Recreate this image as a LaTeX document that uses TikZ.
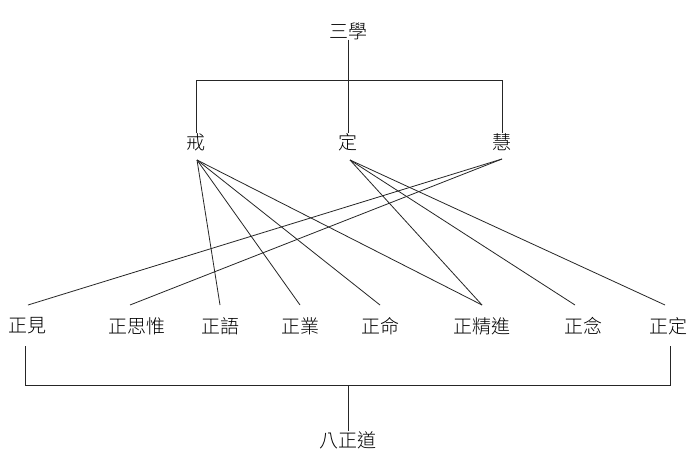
\documentclass[tikz,border=0pt]{standalone}
\usepackage{fontspec}
\newfontfamily\cjk{Noto Sans CJK TC Light}[BoldFont={}]
\begin{document}
\begin{tikzpicture}[x=1pt,y=-1pt,
  lbl/.style={font=\cjk\fontsize{19}{19}\selectfont, inner sep=0pt},
  ln/.style={line width=0.8pt, black!85}]
\useasboundingbox (0,0) rectangle (700,470);
\fill[white] (0,0) rectangle (700,470);
\node[lbl] (top) at (348,31) {三學};
\node[lbl] (jie) at (196,142) {戒};
\node[lbl] (ding) at (348,142) {定};
\node[lbl] (hui) at (502,142) {慧};
\node[lbl] (b1) at (28,326) {正見};
\node[lbl] (b2) at (137,326) {正思惟};
\node[lbl] (b3) at (220,326) {正語};
\node[lbl] (b4) at (300,326) {正業};
\node[lbl] (b5) at (380,326) {正命};
\node[lbl] (b6) at (482,326) {正精進};
\node[lbl] (b7) at (583,326) {正念};
\node[lbl] (b8) at (668,326) {正定};
\node[lbl] (bot) at (348,440) {八正道};
% top bracket
\coordinate (tj) at (196,80); \coordinate (th) at (502,80);
\draw[ln] (top.south) -- (348,80);
\draw[ln] (jie.north) -- (tj) -- (th) -- (hui.north);
\draw[ln] (348,80) -- (ding.north);
% apex points
\coordinate (aj) at (197,160); \coordinate (ad) at (350,160); \coordinate (ah) at (502,159);
\coordinate (e1) at (28,305); \coordinate (e2) at (130,305); \coordinate (e3) at (220,305);
\coordinate (e4) at (300,305); \coordinate (e5) at (380,305); \coordinate (e6) at (482,305);
\coordinate (e7) at (575,305); \coordinate (e8) at (665,305);
\foreach \e in {e3,e4,e5,e6} \draw[ln] (aj) -- (\e);
\foreach \e in {e6,e7,e8} \draw[ln] (ad) -- (\e);
\foreach \e in {e1,e2} \draw[ln] (ah) -- (\e);
% bottom bracket
\coordinate (l1) at (25,385); \coordinate (l2) at (670,385);
\draw[ln] (25,346) -- (l1) -- (l2) -- (670,346);
\draw[ln] (348,385) -- (bot.north);
\end{tikzpicture}
\end{document}
